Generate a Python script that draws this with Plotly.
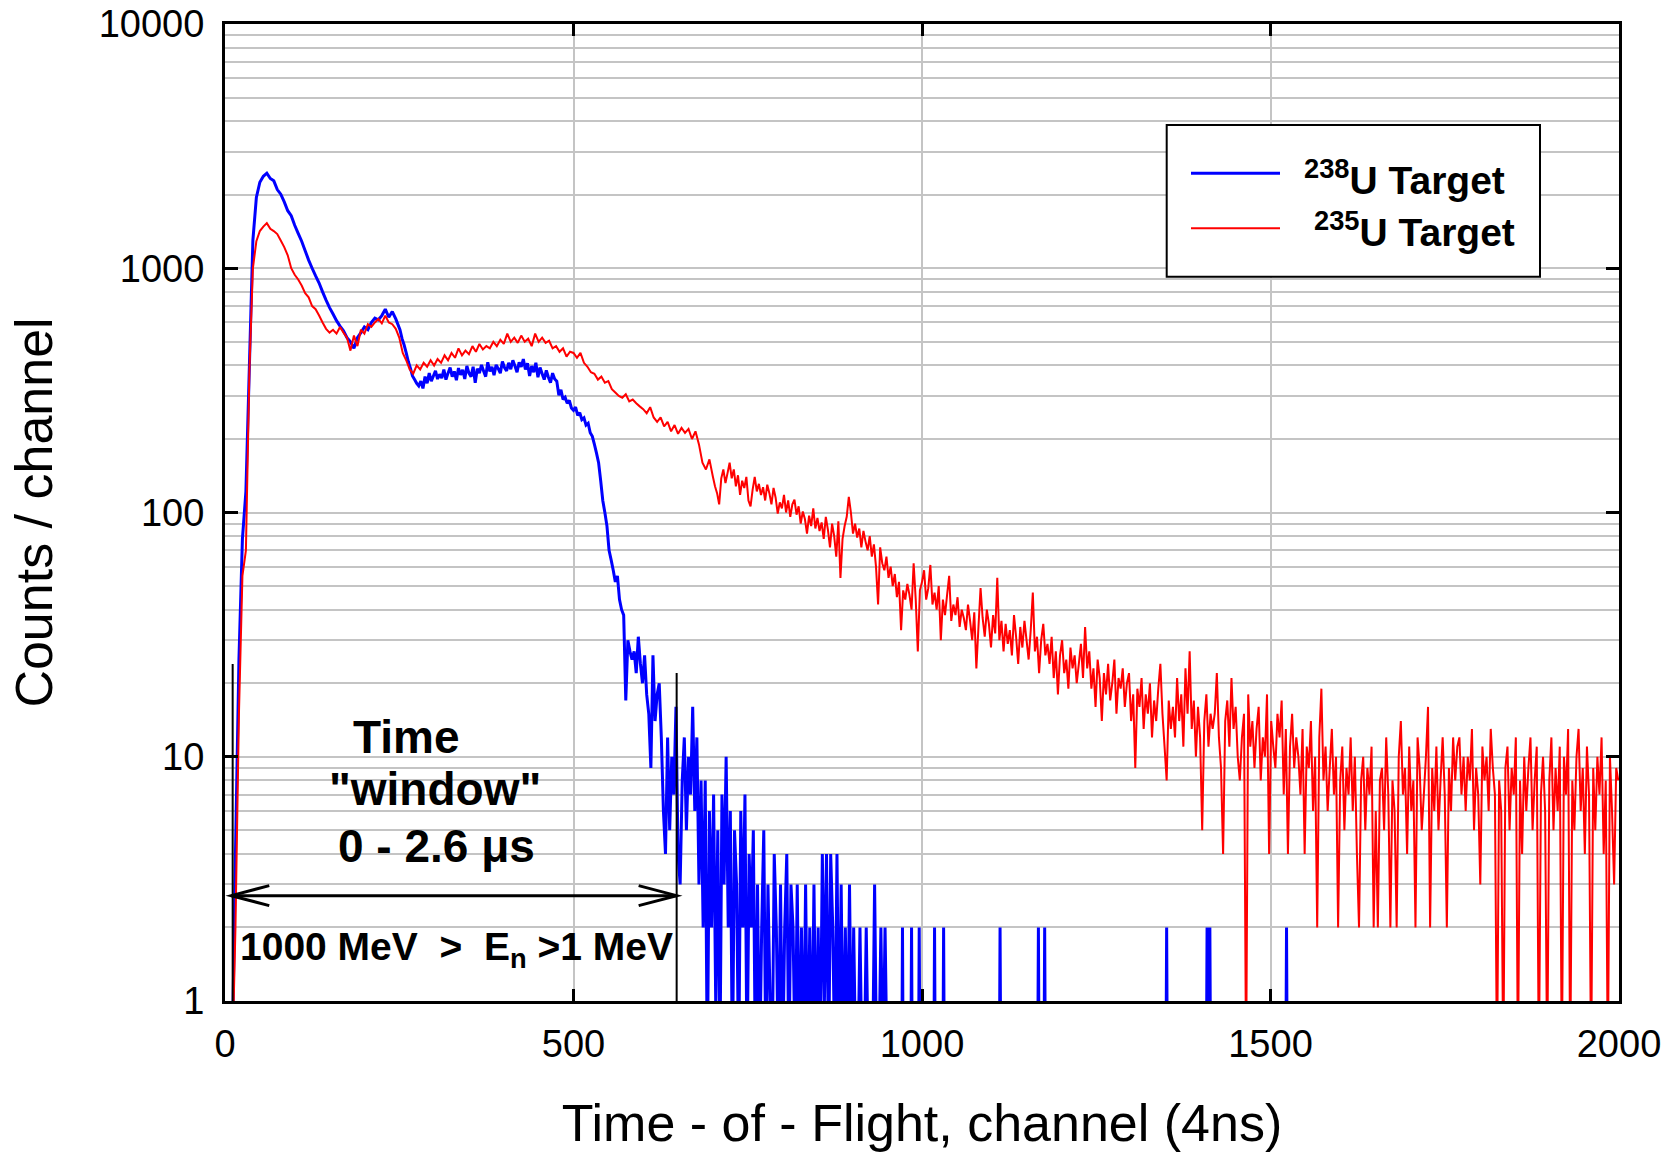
import numpy as np
import plotly.graph_objects as go

FONT = "Arial, 'Liberation Sans', Helvetica, sans-serif"

# Axes: time-of-flight channel (4 ns per channel) and counts per channel (log)
X_RANGE = (0, 2000)
X_TICKS = [0, 500, 1000, 1500, 2000]
Y_TICKS = [1, 10, 100, 1000, 10000]
Y_TICK_TEXT = ["1", "10", "100", "1000", "10000"]
Y_MINOR = [m * d for d in (1, 10, 100, 1000) for m in range(2, 10)]

# 238U target: rising edge and first peak, every 5th channel from channel 0
U238_EARLY_STEP = 5
u238_early = [
    0, 0, 0, 4, 25, 78, 122, 400, 1300, 1950, 2250, 2380, 2450, 2330, 2280, 2100, 2010, 1870, 1720, 1640,
    1500, 1390, 1290, 1180, 1080, 1000, 930, 870, 800, 740, 690, 650, 610, 580, 555, 520, 500, 470, 520, 545,
    575, 560, 600, 625, 615, 640, 680, 630, 665, 620,
]
# 238U target: plateau and fall, every 3rd channel from channel 251
U238_MID_START = 251
U238_MID_STEP = 3
u238_mid = [
    560, 515, 485, 450, 415, 390, 362, 350, 338, 330, 345, 322, 360, 338, 372, 345, 362, 380, 352, 368,
    355, 385, 350, 372, 392, 360, 378, 348, 390, 366, 384, 352, 398, 372, 360, 395, 340, 388, 372, 402,
    380, 360, 412, 378, 395, 365, 402, 388, 372, 415, 392, 380, 410, 386, 420, 398, 375, 412, 395, 425,
    385, 408, 362, 398, 375, 410, 358, 392, 370, 350, 382, 358, 340, 372, 352, 345, 302, 318, 290, 296,
    280, 288, 268, 262, 270, 250, 256, 240, 244, 228, 232, 212, 205, 190, 175, 160, 135, 112, 100, 88,
    70, 64, 58, 52, 55, 44, 40, 38, 17, 30, 27, 25, 27, 22, 31, 24, 20, 26, 18, 15,
    9, 26, 14, 18, 20, 12, 6, 4, 12, 5, 10, 7, 16,
]
# 238U target: sparse tail, every 3rd channel from channel 650
U238_TAIL_START = 650
U238_TAIL_STEP = 3
u238_tail = [
    4, 3, 8, 12, 5, 10, 7, 16, 6, 12, 3, 8, 2, 8, 0, 6, 2, 7, 1, 5,
    0, 7, 3, 10, 2, 6, 0, 5, 3, 0, 6, 2, 7, 0, 4, 2, 5, 0, 3, 0,
    2, 5, 0, 3, 1, 0, 4, 2, 0, 3, 0, 2, 4, 0, 3, 2, 0, 3, 0, 2,
    0, 3, 0, 2, 0, 3, 0, 2, 0, 4, 1, 4, 0, 4, 2, 0, 4, 0, 3, 0,
    2, 0, 3, 0, 2, 0, 0, 2, 0, 0, 2, 0, 0, 0, 3, 0, 0, 2, 0, 2,
    0,
]
# 238U target: isolated single-channel hits beyond the tail
u238_hit_channels = [972, 985, 996, 1018, 1031, 1112, 1167, 1176, 1351, 1409, 1413, 1523]
u238_hit_counts = [2, 2, 2, 2, 2, 2, 2, 2, 2, 2, 2, 2]

# 235U target: every 5th channel from channel 0 up to channel 695
U235_EARLY_STEP = 5
u235_early = [
    0, 0, 0, 2, 15, 55, 70, 380, 1000, 1290, 1420, 1480, 1530, 1450, 1420, 1380, 1300, 1220, 1130, 1000,
    940, 900, 850, 790, 760, 700, 680, 640, 600, 565, 545, 560, 540, 575, 545, 520, 460, 530, 480, 560,
    540, 590, 575, 600, 620, 595, 640, 600, 590, 565, 520, 450, 420, 385, 370, 400, 385, 410, 395, 420,
    400, 425, 410, 440, 420, 450, 430, 470, 440, 460, 445, 480, 455, 490, 465, 480, 470, 500, 480, 510,
    490, 540, 500, 520, 495, 530, 500, 515, 480, 540, 500, 520, 495, 505, 470, 480, 455, 470, 435, 455,
    450, 430, 450, 410, 395, 375, 370, 350, 360, 340, 345, 320, 310, 300, 295, 305, 285, 290, 280, 272,
    265, 255, 270, 245, 235, 245, 225, 235, 215, 228, 210, 222, 212, 220, 200, 215, 190, 160, 150, 165,
]
# 235U target: every 3rd channel from channel 700
U235_LATE_START = 700
U235_LATE_STEP = 3
u235_late = [
    140, 128, 120, 108, 138, 150, 132, 145, 160, 138, 150, 128, 142, 118, 135, 126, 140, 112, 106, 124,
    140, 122, 131, 118, 127, 112, 130, 120, 108, 126, 115, 99, 110, 104, 118, 100, 112, 96, 108, 113,
    98, 106, 90, 101, 94, 82, 97, 88, 104, 86, 95, 84, 91, 78, 96, 85, 72, 90, 80, 66,
    92, 54, 78, 88, 96, 116, 100, 82, 90, 79, 86, 72, 84, 76, 70, 80, 66, 74, 60, 42,
    72, 62, 58, 66, 54, 60, 50, 56, 45, 52, 33, 48, 44, 51, 46, 40, 62, 44, 27, 48,
    52, 58, 44, 49, 61, 42, 47, 40, 50, 30, 44, 38, 46, 55, 36, 42, 38, 45, 34, 40,
    37, 33, 42, 36, 30, 39, 23, 34, 49, 37, 31, 40, 35, 28, 38, 32, 54, 30, 36, 27,
    35, 29, 33, 26, 38, 31, 24, 34, 28, 36, 30, 25, 33, 47, 27, 31, 22, 30, 35, 26,
    29, 24, 31, 21, 27, 18, 26, 30, 22, 25, 19, 28, 23, 26, 20, 24, 29, 21, 34, 23,
    27, 19, 23, 16, 25, 21, 14, 22, 18, 24, 17, 20, 25, 15, 21, 19, 23, 16, 20, 22,
    14, 18, 9, 19, 16, 21, 13, 18, 15, 20, 12, 17, 14, 19, 24, 15, 11, 8, 17, 13,
    16, 12, 21, 14, 18, 11, 23, 15, 27, 13, 17, 10, 16, 12, 5, 14, 18, 11, 15, 13,
    15, 22, 12, 9, 4, 14, 17, 11, 21, 13, 16, 10, 8, 12, 15, 0, 18, 11, 14, 9,
    13, 16, 8, 12, 10, 18, 4, 14, 11, 9, 15, 12, 17, 7, 13, 4, 11, 15, 9, 12,
    10, 7, 13, 4, 11, 9, 14, 6, 10, 2, 12, 19, 8, 11, 6, 9, 13, 7, 10, 2,
    8, 11, 5, 9, 7, 12, 6, 10, 4, 2, 8, 10, 5, 9, 7, 11, 2, 6, 2, 8,
    9, 5, 12, 7, 2, 8, 6, 2, 10, 14, 7, 9, 4, 11, 6, 8, 2, 12, 9, 5,
    7, 10, 16, 2, 9, 6, 11, 5, 8, 12, 7, 2, 9, 6, 12, 8, 11, 12, 7, 10,
    6, 10, 8, 13, 5, 9, 7, 3, 11, 8, 10, 6, 13, 9, 7, 0, 8, 6, 0, 9,
    11, 5, 9, 7, 12, 0, 8, 4, 10, 6, 9, 12, 5, 8, 11, 0, 7, 10, 6, 0,
    8, 12, 5, 9, 6, 11, 0, 10, 7, 13, 0, 8, 5, 10, 13, 6, 9, 4, 11, 7,
    0, 9, 5, 10, 7, 12, 4, 8, 0, 10, 6, 3, 9, 8,
]

# Neutron time window: 0 - 2.6 us (channels 11 .. 648), 1000 MeV > En > 1 MeV
WINDOW_START_CH = 11
WINDOW_END_CH = 648
WINDOW_START_TOP = 24
WINDOW_END_TOP = 22
WINDOW_ARROW_LEVEL = 2.7

# Figure geometry (pixels)
W, H = 1679, 1153
ML, MR, MT, MB = 225, 60, 24, 152
PLOT_W = W - ML - MR
PLOT_H = H - MT - MB
PLOT_BOTTOM = H - MB
EMPTY_CHANNEL_LEVEL = 0.5  # empty channels are drawn below the axis floor


def xp(ch):
    return (ch - X_RANGE[0]) / (X_RANGE[1] - X_RANGE[0])


def yp(counts):
    return np.log10(counts) / 4.0


def px_x(px):
    return (px - ML) / PLOT_W


def px_y(py):
    return (PLOT_BOTTOM - py) / PLOT_H


def segment(start, step, values):
    return list(start + step * np.arange(len(values))), list(values)


# Assemble the 238U spectrum
u238_x, u238_y = [], []
for start, step, vals in ((0, U238_EARLY_STEP, u238_early),
                          (U238_MID_START, U238_MID_STEP, u238_mid),
                          (U238_TAIL_START, U238_TAIL_STEP, u238_tail)):
    sx, sy = segment(start, step, vals)
    u238_x += sx
    u238_y += sy
for c, h in zip(u238_hit_channels, u238_hit_counts):
    u238_x += [c - 1, c, c + 1]
    u238_y += [0, h, 0]
u238_x.append(X_RANGE[1])
u238_y.append(0)
u238_y = np.array(u238_y, dtype=float)
u238_plot = np.where(u238_y > 0, u238_y, EMPTY_CHANNEL_LEVEL)

# Assemble the 235U spectrum
u235_x, u235_y = [], []
for start, step, vals in ((0, U235_EARLY_STEP, u235_early),
                          (U235_LATE_START, U235_LATE_STEP, u235_late)):
    sx, sy = segment(start, step, vals)
    u235_x += sx
    u235_y += sy
u235_y = np.array(u235_y, dtype=float)
u235_plot = np.where(u235_y > 0, u235_y, EMPTY_CHANNEL_LEVEL)

fig = go.Figure()
fig.add_trace(go.Scatter(
    x=u238_x, y=u238_plot, mode="lines", name="238U Target",
    line=dict(color="#0000ff", width=3, simplify=False), showlegend=False,
))
fig.add_trace(go.Scatter(
    x=u235_x, y=u235_plot, mode="lines", name="235U Target",
    line=dict(color="#ff0000", width=2, simplify=False), showlegend=False,
))

GRID = "#c4c4c4"
fig.update_layout(
    width=W, height=H, autosize=False,
    margin=dict(l=ML, r=MR, t=MT, b=MB, pad=0),
    paper_bgcolor="white", plot_bgcolor="white",
    font=dict(family=FONT, color="black"),
    xaxis=dict(
        range=list(X_RANGE), tickmode="array", tickvals=X_TICKS, automargin=False,
        ticks="inside", ticklen=12, tickwidth=3, tickcolor="black",
        showline=True, linewidth=3, linecolor="black", mirror="ticks",
        showgrid=True, gridcolor=GRID, gridwidth=2, zeroline=False,
        tickfont=dict(size=38, family=FONT), ticklabelstandoff=7,
        title=dict(text="Time - of - Flight, channel (4ns)",
                   font=dict(size=52, family=FONT), standoff=42),
    ),
    yaxis=dict(
        type="log", range=[0, 4], tickmode="array", tickvals=Y_TICKS, ticktext=Y_TICK_TEXT,
        automargin=False,
        ticks="inside", ticklen=13, tickwidth=3, tickcolor="black",
        showline=True, linewidth=3, linecolor="black", mirror="ticks",
        showgrid=True, gridcolor=GRID, gridwidth=2, zeroline=False,
        minor=dict(tickmode="array", tickvals=Y_MINOR, showgrid=True,
                   gridcolor=GRID, gridwidth=2, ticks=""),
        tickfont=dict(size=38, family=FONT), ticklabelstandoff=10,
        title=dict(text="Counts / channel", font=dict(size=52, family=FONT), standoff=30),
    ),
)

shapes = []
# Time-window markers and double arrow
for ch, top in ((WINDOW_START_CH, WINDOW_START_TOP), (WINDOW_END_CH, WINDOW_END_TOP)):
    shapes.append(dict(type="line", xref="paper", yref="paper",
                       x0=xp(ch), x1=xp(ch), y0=0, y1=yp(top),
                       line=dict(color="black", width=2)))
ay = yp(WINDOW_ARROW_LEVEL)
ax0, ax1 = xp(WINDOW_START_CH) - 0.001, xp(WINDOW_END_CH)
shapes.append(dict(type="line", xref="paper", yref="paper", x0=ax0, x1=ax1, y0=ay, y1=ay,
                   line=dict(color="black", width=3)))
HEAD_L = 38 / PLOT_W
HEAD_H = 10 / PLOT_H
for tip, back in ((ax0, ax0 + HEAD_L), (ax1, ax1 - HEAD_L)):
    shapes.append(dict(type="path", xref="paper", yref="paper",
                       path=f"M {back},{ay + HEAD_H} L {tip},{ay} L {back},{ay - HEAD_H}",
                       line=dict(color="black", width=3)))

# Legend box with sample lines
shapes.append(dict(type="rect", xref="paper", yref="paper",
                   x0=px_x(1166.7), x1=px_x(1540), y0=px_y(276.7), y1=px_y(125),
                   line=dict(color="black", width=2), fillcolor="white", layer="above"))
legend_items = [
    ("<b><sup>238</sup>U Target</b>", "#0000ff", 3, 173.3, 1301.7, 177),
    ("<b><sup>235</sup>U Target</b>", "#ff0000", 2, 228.3, 1311.7, 229),
]
annotations = []
for label, color, width, line_y, text_x, text_y in legend_items:
    shapes.append(dict(type="line", xref="paper", yref="paper",
                       x0=px_x(1191), x1=px_x(1280), y0=px_y(line_y), y1=px_y(line_y),
                       line=dict(color=color, width=width), layer="above"))
    annotations.append(dict(text=label, xref="paper", yref="paper",
                            x=px_x(text_x), y=px_y(text_y),
                            xanchor="left", yanchor="middle", showarrow=False,
                            font=dict(size=39, family=FONT, color="black")))

# Time-window labels, placed in data coordinates (channel, counts)
window_labels = [
    ("<b>Time</b>", 260, 12.1, "center", 46),
    ("<b>\"window\"</b>", 301, 7.4, "center", 46),
    ("<b>0 - 2.6 μs</b>", 304, 4.33, "center", 46),
    ("<b>1000 MeV\u00a0\u00a0>\u00a0\u00a0E<sub>n</sub> >1 MeV</b>", 18.7, 1.63, "left", 39),
]
for text, ch, cnt, anchor, size in window_labels:
    annotations.append(dict(text=text, xref="x", yref="y", x=ch, y=np.log10(cnt),
                            xanchor=anchor, yanchor="middle", showarrow=False,
                            font=dict(size=size, family=FONT, color="black")))

fig.update_layout(shapes=shapes, annotations=annotations)
fig.write_html("out.html")
